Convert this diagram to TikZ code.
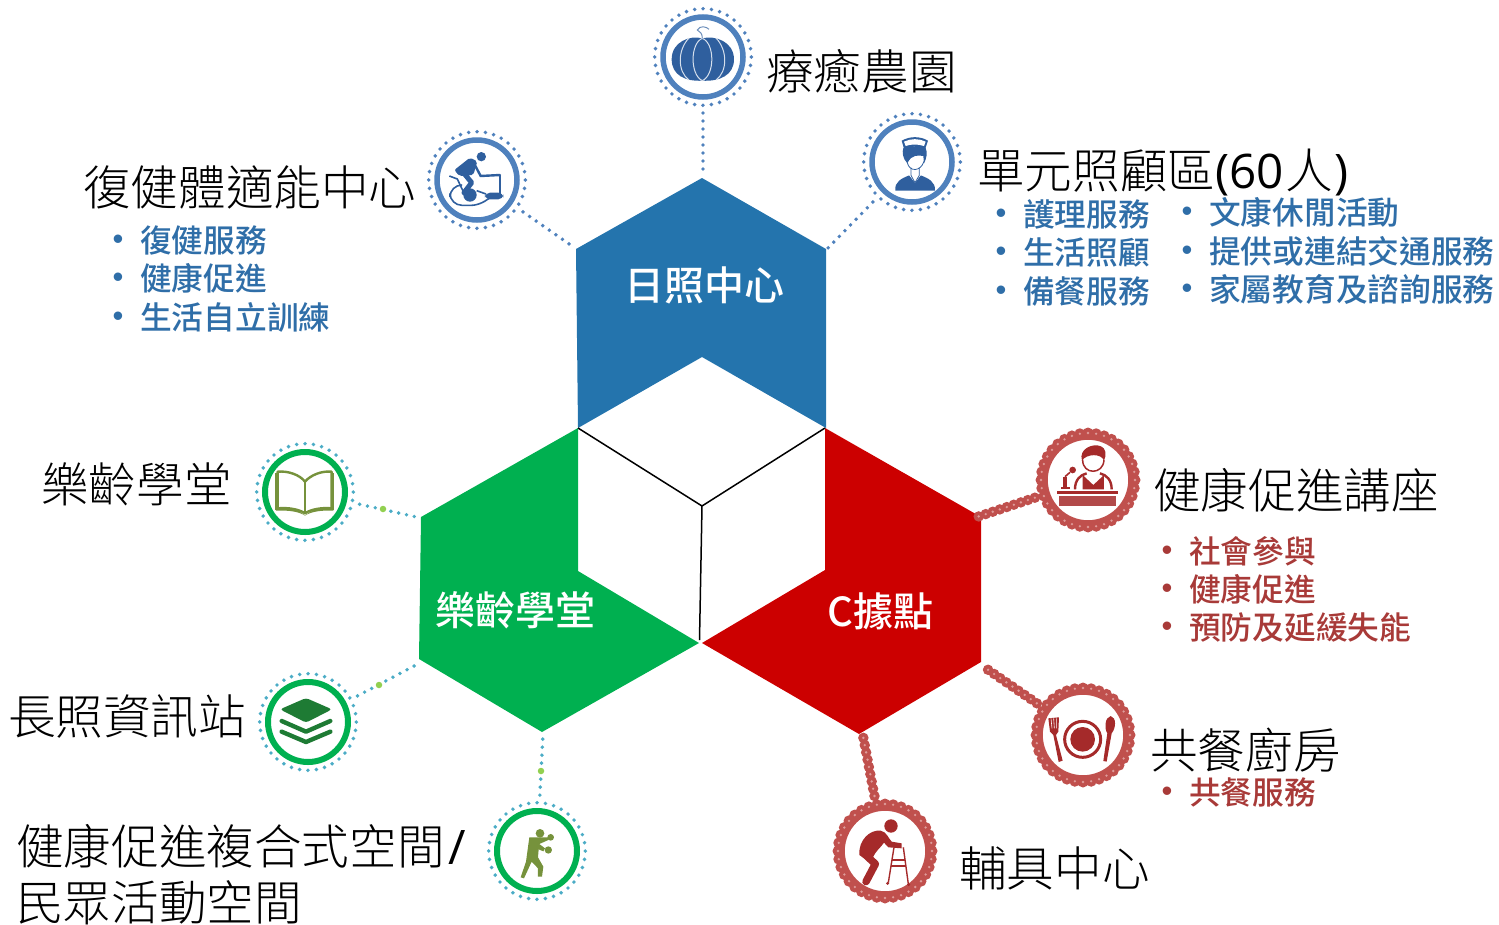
\documentclass[tikz,border=0pt]{standalone}
\usepackage{fontspec}
\setmainfont{Noto Sans CJK TC}
\newfontfamily\hl{Noto Sans CJK TC Light}
\newfontfamily\bl{Noto Sans CJK TC Medium}
\newfontfamily\bu{Liberation Sans}
\newfontfamily\lat{Open Sans}
\definecolor{hexblue}{HTML}{2474AD}
\definecolor{hexgreen}{HTML}{00B050}
\definecolor{hexred}{HTML}{CC0000}
\definecolor{ringblue}{HTML}{4F81BD}
\definecolor{iconblue}{HTML}{2F5F9E}
\definecolor{teal}{HTML}{4BACC6}
\definecolor{lime}{HTML}{92D050}
\definecolor{bead}{HTML}{C0504D}
\definecolor{beadlight}{HTML}{DE9C9A}
\definecolor{iconred}{HTML}{A52A2A}
\definecolor{olive}{HTML}{76923C}
\definecolor{dkgreen}{HTML}{1E7B34}
\definecolor{txtblue}{HTML}{2F6EA8}
\definecolor{txtred}{HTML}{A83A38}
\tikzset{
  hub/.style={circle,minimum size=112pt,inner sep=0pt,outer sep=0pt},
  head/.style={anchor=base west,inner sep=0pt,text=black,font=\hl\fontsize{47.6}{50}\selectfont,yshift=-18pt,xshift=-1pt},
  item/.style={anchor=base west,inner sep=0pt,font=\bl\fontsize{31.7}{34}\selectfont,yshift=-12.5pt,xshift=-1pt},
  bullet/.style={inner sep=0pt,font=\bu\fontsize{31}{31}\selectfont,yshift=-2.5pt},
  hexlabel/.style={inner sep=0pt,text=white,font=\bl\fontsize{40}{42}\selectfont},
  dotline/.style={line width=3.9pt,line cap=round,dash pattern=on 0pt off 8pt},
  beadline/.style={line width=10.5pt,line cap=round,color=bead,dash pattern=on 0pt off 7.4pt},
  beadcore/.style={line width=2.6pt,line cap=round,color=beadlight,dash pattern=on 0pt off 7.4pt},
  greendot/.style={circle,fill=lime,minimum size=6.5pt,inner sep=0pt},
}
\newcommand{\dotring}[2]{%
  \draw[#2,line width=5.5pt] (#1) circle (40);
  \draw[#2,line width=3.9pt,line cap=round,dash pattern=on 0pt off 8.43pt] (#1) circle (48.3);}
\newcommand{\dotringb}[3]{%
  \draw[#2,line width=6pt] (#1) circle (40);
  \draw[#3,line width=3.9pt,line cap=round,dash pattern=on 0pt off 8.43pt] (#1) circle (48.3);}
\newcommand{\beadring}[1]{%
  \draw[bead,line width=8pt] (#1) circle (44.2);
  \draw[bead,line width=11pt,line cap=round,dash pattern=on 0pt off 8.2pt] (#1) circle (47);
  \draw[beadlight,line width=2.6pt,line cap=round,dash pattern=on 0pt off 8.2pt] (#1) circle (47);}
\begin{document}
\begin{tikzpicture}[x=1pt,y=-1pt]
\useasboundingbox (0,0) rectangle (1499,924);
% hexagons
\fill[hexblue] (702,178) -- (826,249) -- (826,428) -- (702,357) -- (578,428) -- (576,249) -- cycle;
\fill[hexgreen] (578,428) -- (421,517) -- (419,659) -- (542,732) -- (699,643) -- (578,571) -- cycle;
\fill[hexred] (825,428) -- (981,517) -- (981,662) -- (859,734) -- (702,643) -- (825,570) -- cycle;
\coordinate (cl) at (578,428);
\coordinate (cr) at (825,428);
\coordinate (cc) at (702,506);
\coordinate (cb) at (699.5,640);
\draw[black,line width=1.5pt] (cl) -- (cc) -- (cr) (cc) -- (cb);
% hubs
\node[hub] (pumpkin) at (703,57) {};
\node[hub] (nurse) at (912,162) {};
\node[hub] (cyclist) at (477,180) {};
\node[hub] (book) at (305,492) {};
\node[hub] (layers) at (308,722) {};
\node[hub] (boxer) at (537,851) {};
\node[hub] (speaker) at (1088,480) {};
\node[hub] (plate) at (1083,735) {};
\node[hub] (walker) at (885,851) {};
% free ends
\coordinate (e1) at (703,175);
\coordinate (e2) at (828,248);
\coordinate (e3) at (575,248);
\coordinate (e4) at (421,518);
\coordinate (e5) at (416,665);
\coordinate (e6) at (543,734);
\coordinate (e7) at (977,517);
\coordinate (e8) at (984,667);
\coordinate (e9) at (863,736);
% connectors
\draw[dotline,ringblue] (pumpkin) -- (e1);
\draw[dotline,ringblue] (nurse) -- (e2);
\draw[dotline,ringblue] (cyclist) -- (e3);
\draw[dotline,teal] (book) -- (e4);
\draw[dotline,teal] (layers) -- (e5);
\draw[dotline,teal] (boxer) -- (e6);
\node[greendot] at (383,509) {};
\node[greendot] at (379,685) {};
\node[greendot] at (541,771) {};
\foreach \a/\b in {speaker/e7,plate/e8,walker/e9}{
  \draw[beadline] (\a) -- (\b);
  \draw[beadcore] (\a) -- (\b);
}
% rings
\dotring{pumpkin.center}{ringblue}
\dotring{nurse.center}{ringblue}
\dotring{cyclist.center}{ringblue}
\dotringb{book.center}{hexgreen}{teal}
\dotringb{layers.center}{hexgreen}{teal}
\dotringb{boxer.center}{hexgreen}{teal}
\beadring{speaker.center}
\beadring{plate.center}
\beadring{walker.center}
% pumpkin icon
\begin{scope}[x=.33333pt,y=-.33333pt,shift={(1920,0)}]
\fill[iconblue] (187,115) .. controls (150,105) and (95,125) .. (95,178) .. controls (95,225) and (135,245) .. (187,242) .. controls (240,245) and (282,225) .. (282,178) .. controls (282,125) and (225,105) .. (187,115) -- cycle;
\draw[white!80!iconblue,line width=1pt] (187,115) .. controls (150,130) and (150,225) .. (187,242) .. controls (225,225) and (225,130) .. (187,115);
\draw[white!80!iconblue,line width=1pt] (147,114) .. controls (112,150) and (112,215) .. (147,240);
\draw[white!80!iconblue,line width=1pt] (228,114) .. controls (263,150) and (263,215) .. (228,240);
\draw[iconblue!70,line width=1pt] (187,115) .. controls (187,100) and (180,95) .. (172,90) .. controls (180,75) and (200,80) .. (207,88);
\end{scope}
% nurse icon
\begin{scope}[x=.33333pt,y=-.33333pt,shift={(1920,0)}]
\fill[iconblue] (766,572) .. controls (763,545) and (785,535) .. (808,526) -- (825,548) -- (842,526) .. controls (865,535) and (887,545) .. (885,572) -- cycle;
\fill[white] (808,526) -- (825,548) -- (842,526) -- (838,516) -- (813,516) -- cycle;
\draw[iconblue,line width=.8pt] (813,503) -- (813,526) -- (825,548) -- (838,526) -- (838,503);
\fill[iconblue] (785,422) .. controls (810,408) and (840,408) .. (864,422) -- (856,446) .. controls (835,438) and (810,438) .. (792,446) -- cycle;
\fill[white] (792,425) .. controls (812,415) and (838,415) .. (857,425) -- (852,438) .. controls (835,432) and (812,432) .. (797,438) -- cycle;
\fill[iconblue] (790,444) .. controls (810,437) and (840,437) .. (857,444) .. controls (863,458) and (860,475) .. (852,490) -- (850,468) .. controls (835,466) and (815,462) .. (802,490) .. controls (788,475) and (786,458) .. (790,444) -- cycle;
\draw[iconblue,line width=.8pt] (802,488) .. controls (808,516) and (842,516) .. (852,484);
\end{scope}
% cyclist icon
\begin{scope}[x=.33333pt,y=-.33333pt,shift={(1260,360)}]
\fill[iconblue] (184,110) circle (14);
\fill[iconblue,rounded corners=2pt] (103,150) -- (150,113) -- (172,124) -- (160,165) -- (118,168) -- cycle;
\draw[iconblue,line width=5pt,line cap=round,line join=round] (132,160) -- (155,188) -- (132,218);
\draw[iconblue,line width=2.4pt,line cap=round] (163,132) -- (182,168) -- (240,165);
\draw[iconblue,line width=2pt] (240,165) -- (240,222);
\fill[iconblue,rounded corners=5pt] (195,218) rectangle (250,238);
\fill[iconblue] (150,225) circle (20);
\draw[iconblue,line width=1.6pt,rounded corners=12pt] (125,195) -- (90,195) -- (90,256) -- (190,256) -- (205,238);
\draw[iconblue,line width=1.6pt] (88,168) -- (112,177) -- (130,215);
\draw[iconblue,line width=1.6pt] (170,212) -- (198,222);
\end{scope}
% book icon
\begin{scope}[x=.33333pt,y=-.33333pt,shift={(720,1290)}]
\draw[olive,line width=2.4pt,line join=round] (113,125) .. controls (145,122) and (180,135) .. (195,155) .. controls (212,135) and (245,122) .. (275,125) -- (275,235) .. controls (245,232) and (212,238) .. (195,250) .. controls (178,238) and (145,232) .. (113,235) -- cycle;
\draw[olive,line width=1.8pt] (195,155) -- (195,250);
\fill[olive] (108,232) .. controls (145,230) and (180,240) .. (195,257) .. controls (212,240) and (245,230) .. (280,232) -- (280,242) .. controls (245,240) and (212,245) .. (195,257) .. controls (178,245) and (145,240) .. (108,242) -- cycle;
\draw[olive,line width=1.8pt] (108,130) -- (108,240) (280,130) -- (280,240);
\end{scope}
% layers icon
\begin{scope}[x=.33333pt,y=-.33333pt,shift={(720,1290)}]
\fill[dkgreen,rounded corners=3pt] (120,838) -- (198,804) -- (276,838) -- (198,878) -- cycle;
\draw[dkgreen,line width=4.4pt,line cap=round,line join=round] (125,873) -- (198,905) -- (271,873);
\draw[dkgreen,line width=4.4pt,line cap=round,line join=round] (125,905) -- (198,936) -- (271,905);
\end{scope}
% boxer icon
\begin{scope}[x=.33333pt,y=-.33333pt,shift={(1440,2160)}]
\fill[olive] (180,340) circle (13);
\fill[olive] (212,352) circle (10);
\fill[olive] (205,390) circle (11);
\fill[olive] (148,352) -- (172,352) -- (205,352) -- (205,360) -- (178,372) -- (195,385) -- (190,394) -- (176,388) -- (174,412) -- (190,440) -- (186,470) -- (174,470) -- (174,445) -- (155,425) -- (132,475) -- (122,472) -- (138,425) -- cycle;
\end{scope}
% speaker icon
\begin{scope}[x=.33333pt,y=-.33333pt,shift={(2880,1260)}]
\draw[iconred,line width=1.5pt] (368,120) .. controls (368,165) and (430,165) .. (432,120);
\fill[iconred] (366,122) .. controls (355,85) and (400,70) .. (420,78) .. controls (440,85) and (440,105) .. (432,122) .. controls (425,100) and (380,100) .. (366,122) -- cycle;
\draw[iconred,line width=2.4pt] (345,208) .. controls (345,180) and (360,165) .. (380,160);
\draw[iconred,line width=2.4pt] (455,208) .. controls (455,180) and (440,165) .. (420,160);
\fill[iconred] (368,208) -- (368,165) -- (400,195) -- (432,165) -- (432,208) -- cycle;
\fill[iconred] (292,212) rectangle (475,222);
\fill[iconred!85!white] (297,228) rectangle (468,258);
\fill[iconred] (338,150) circle (10);
\draw[iconred,line width=1.6pt] (330,157) -- (315,170);
\fill[iconred] (310,170) rectangle (320,205);
\fill[iconred] (302,200) rectangle (330,208);
\end{scope}
% plate icon
\begin{scope}[x=.33333pt,y=-.33333pt,shift={(2460,1980)}]
\draw[iconred,line width=3pt] (788,238) circle (54);
\fill[iconred] (788,238) circle (37);
\fill[iconred] (685,175) -- (717,172) -- (715,215) -- (708,225) -- (728,302) -- (716,306) -- (700,225) -- (690,215) -- cycle;
\draw[white,line width=.6pt] (693,175) -- (696,205) (701,175) -- (703,205) (709,175) -- (709,205);
\fill[iconred] (872,168) .. controls (890,172) and (888,205) .. (875,220) -- (860,305) -- (850,303) -- (862,220) .. controls (852,205) and (855,172) .. (872,168) -- cycle;
\end{scope}
% walker icon
\begin{scope}[x=.33333pt,y=-.33333pt,shift={(2460,1980)}]
\fill[iconred] (213,498) circle (20);
\fill[iconred] (118,585) .. controls (115,540) and (150,508) .. (182,512) .. controls (200,515) and (205,535) .. (215,545) -- (245,550) -- (245,565) -- (205,562) -- (192,548) .. controls (180,565) and (170,570) .. (160,590) -- (140,600) -- cycle;
\draw[iconred,line width=7.5pt,line cap=round,line join=round] (132,580) -- (166,612) -- (138,665);
\draw[iconred,line width=1.4pt] (222,562) -- (205,668) (250,562) -- (265,672);
\draw[iconred,line width=1.4pt] (215,600) -- (255,600) (212,618) -- (258,618);
\fill[iconred] (203,670) circle (5) (266,674) circle (5);
\end{scope}
% hex labels
\node[hexlabel] (lb) at (704,285) {日照中心};
\node[hexlabel] (lg) at (515,610) {樂齡學堂};
\node[hexlabel] (lr) at (880.5,611) {C據點};
% headings
\node[head] (t1) at (767,71) {療癒農園};
\node[head] (t2) at (978,170) {單元照顧區{\lat(60}\hspace{2pt}人\hspace{1pt}{\lat)}};
\node[head] (t3) at (84,187) {復健體適能中心};
\node[head] (t4) at (42,484) {樂齡學堂};
\node[head] (t5) at (9,716) {長照資訊站};
\node[head] (t6) at (17,846) {健康促進複合式空間\hspace{4pt}{\lat/}};
\node[head] (t7) at (17,902) {民眾活動空間};
\node[head] (t8) at (1154,490) {健康促進講座};
\node[head] (t9) at (1151,750) {共餐廚房};
\node[head] (t10) at (960,868) {輔具中心};
% blue lists
\foreach \n/\x/\y/\s in {a1/141/240/復健服務,a2/141/278/健康促進,a3/141/317/生活自立訓練,
  b1/1024/214/護理服務,b2/1024/252/生活照顧,b3/1024/291/備餐服務,
  c1/1210/212/文康休閒活動,c2/1210/251/提供或連結交通服務,c3/1210/289/家屬教育及諮詢服務}{
  \node[item,text=txtblue] (\n) at (\x,\y) {\s};
  \node[bullet,text=txtblue] (\n b) at (\x-23,\y) {•};
}
\foreach \n/\x/\y/\s in {d1/1190/551/社會參與,d2/1190/589/健康促進,d3/1190/627/預防及延緩失能,d4/1190/792/共餐服務}{
  \node[item,text=txtred] (\n) at (\x,\y) {\s};
  \node[bullet,text=txtred] (\n b) at (\x-23,\y) {•};
}
\end{tikzpicture}
\end{document}
